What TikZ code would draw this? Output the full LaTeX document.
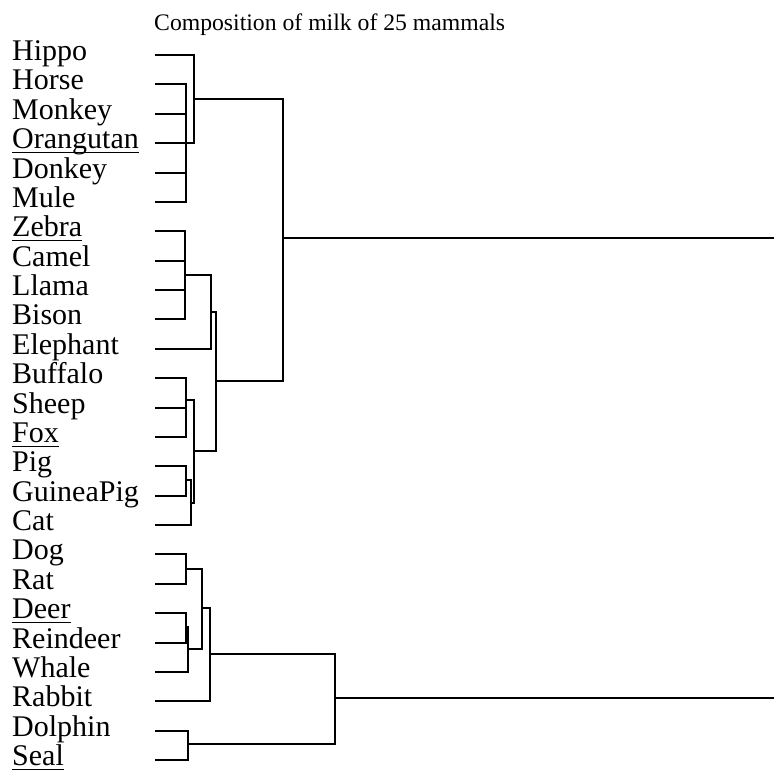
\documentclass[tikz,border=0pt]{standalone}
\usepackage{fontspec}
\setmainfont{Liberation Serif}
\begin{document}
\begin{tikzpicture}[x=1pt,y=-1pt,
  lab/.style={anchor=base west,inner sep=0pt,font=\fontsize{30}{30}\selectfont},
  ttl/.style={anchor=base west,inner sep=0pt,font=\fontsize{23.7}{24}\selectfont},
  link/.style={line width=2pt},
  ul/.style={line width=1.8pt}]
\useasboundingbox (0,0) rectangle (774,771);

\node[ttl] (title) at (154,30) {Composition of milk of 25 mammals};

% leaf labels and the start of each leaf line (rows snapped to whole units)
\foreach \n [count=\i from 0] in {Hippo,Horse,Monkey,Orangutan,Donkey,Mule,Zebra,Camel,Llama,Bison,Elephant,Buffalo,Sheep,Fox,Pig,GuineaPig,Cat,Dog,Rat,Deer,Reindeer,Whale,Rabbit,Dolphin,Seal}{
  \pgfmathtruncatemacro\rowy{round(55+29.375*\i)}
  \node[lab] (l\i) at (12,\rowy+5.5) {\n};
  \coordinate (s\i) at (155,\rowy);
}

% underlined labels
\foreach \i in {3,6,13,19,24}{
  \draw[ul] ([yshift=-4pt]l\i.base west) -- ([yshift=-4pt]l\i.base east);
}

% merge points of the upper cluster
\coordinate (jA)   at (186,143);
\coordinate (jB)   at (194,99);
\coordinate (jC)   at (185,275);
\coordinate (jCE)  at (211,312);
\coordinate (jD)   at (186,400);
\coordinate (jE)   at (186,480);
\coordinate (jEC)  at (191,503);
\coordinate (jF)   at (194,451);
\coordinate (jG)   at (216,381);
\coordinate (jTop) at (283,238);
\coordinate (eTop) at (774,238);

% merge points of the lower cluster
\coordinate (jH)   at (186,569);
\coordinate (jI)   at (186,627);
\coordinate (jIW)  at (188,649);
\coordinate (jHI)  at (202,608);
\coordinate (jR)   at (210,654);
\coordinate (jJ)   at (188,744);
\coordinate (jBot) at (335,698);
\coordinate (eBot) at (774,698);

% upper cluster
\foreach \i in {1,2,3,4,5} \draw[link] (s\i) -| (jA);
\draw[link] (s0) -| (jB);
\draw[link] (jA) -| (jB);
\foreach \i in {6,7,8,9} \draw[link] (s\i) -| (jC);
\draw[link] (jC) -| (jCE);
\draw[link] (s10) -| (jCE);
\foreach \i in {11,12,13} \draw[link] (s\i) -| (jD);
\foreach \i in {14,15} \draw[link] (s\i) -| (jE);
\draw[link] (jE) -| (jEC);
\draw[link] (s16) -| (jEC);
\draw[link] (jD) -| (jF);
\draw[link] (jEC) -| (jF);
\draw[link] (jCE) -| (jG);
\draw[link] (jF) -| (jG);
\draw[link] (jB) -| (jTop);
\draw[link] (jG) -| (jTop);
\draw[link] (jTop) -- (eTop);

% lower cluster
\foreach \i in {17,18} \draw[link] (s\i) -| (jH);
\foreach \i in {19,20} \draw[link] (s\i) -| (jI);
\draw[link] (jI) -| (jIW);
\draw[link] (s21) -| (jIW);
\draw[link] (jH) -| (jHI);
\draw[link] (jIW) -| (jHI);
\draw[link] (jHI) -| (jR);
\draw[link] (s22) -| (jR);
\foreach \i in {23,24} \draw[link] (s\i) -| (jJ);
\draw[link] (jR) -| (jBot);
\draw[link] (jJ) -| (jBot);
\draw[link] (jBot) -- (eBot);
\end{tikzpicture}
\end{document}
